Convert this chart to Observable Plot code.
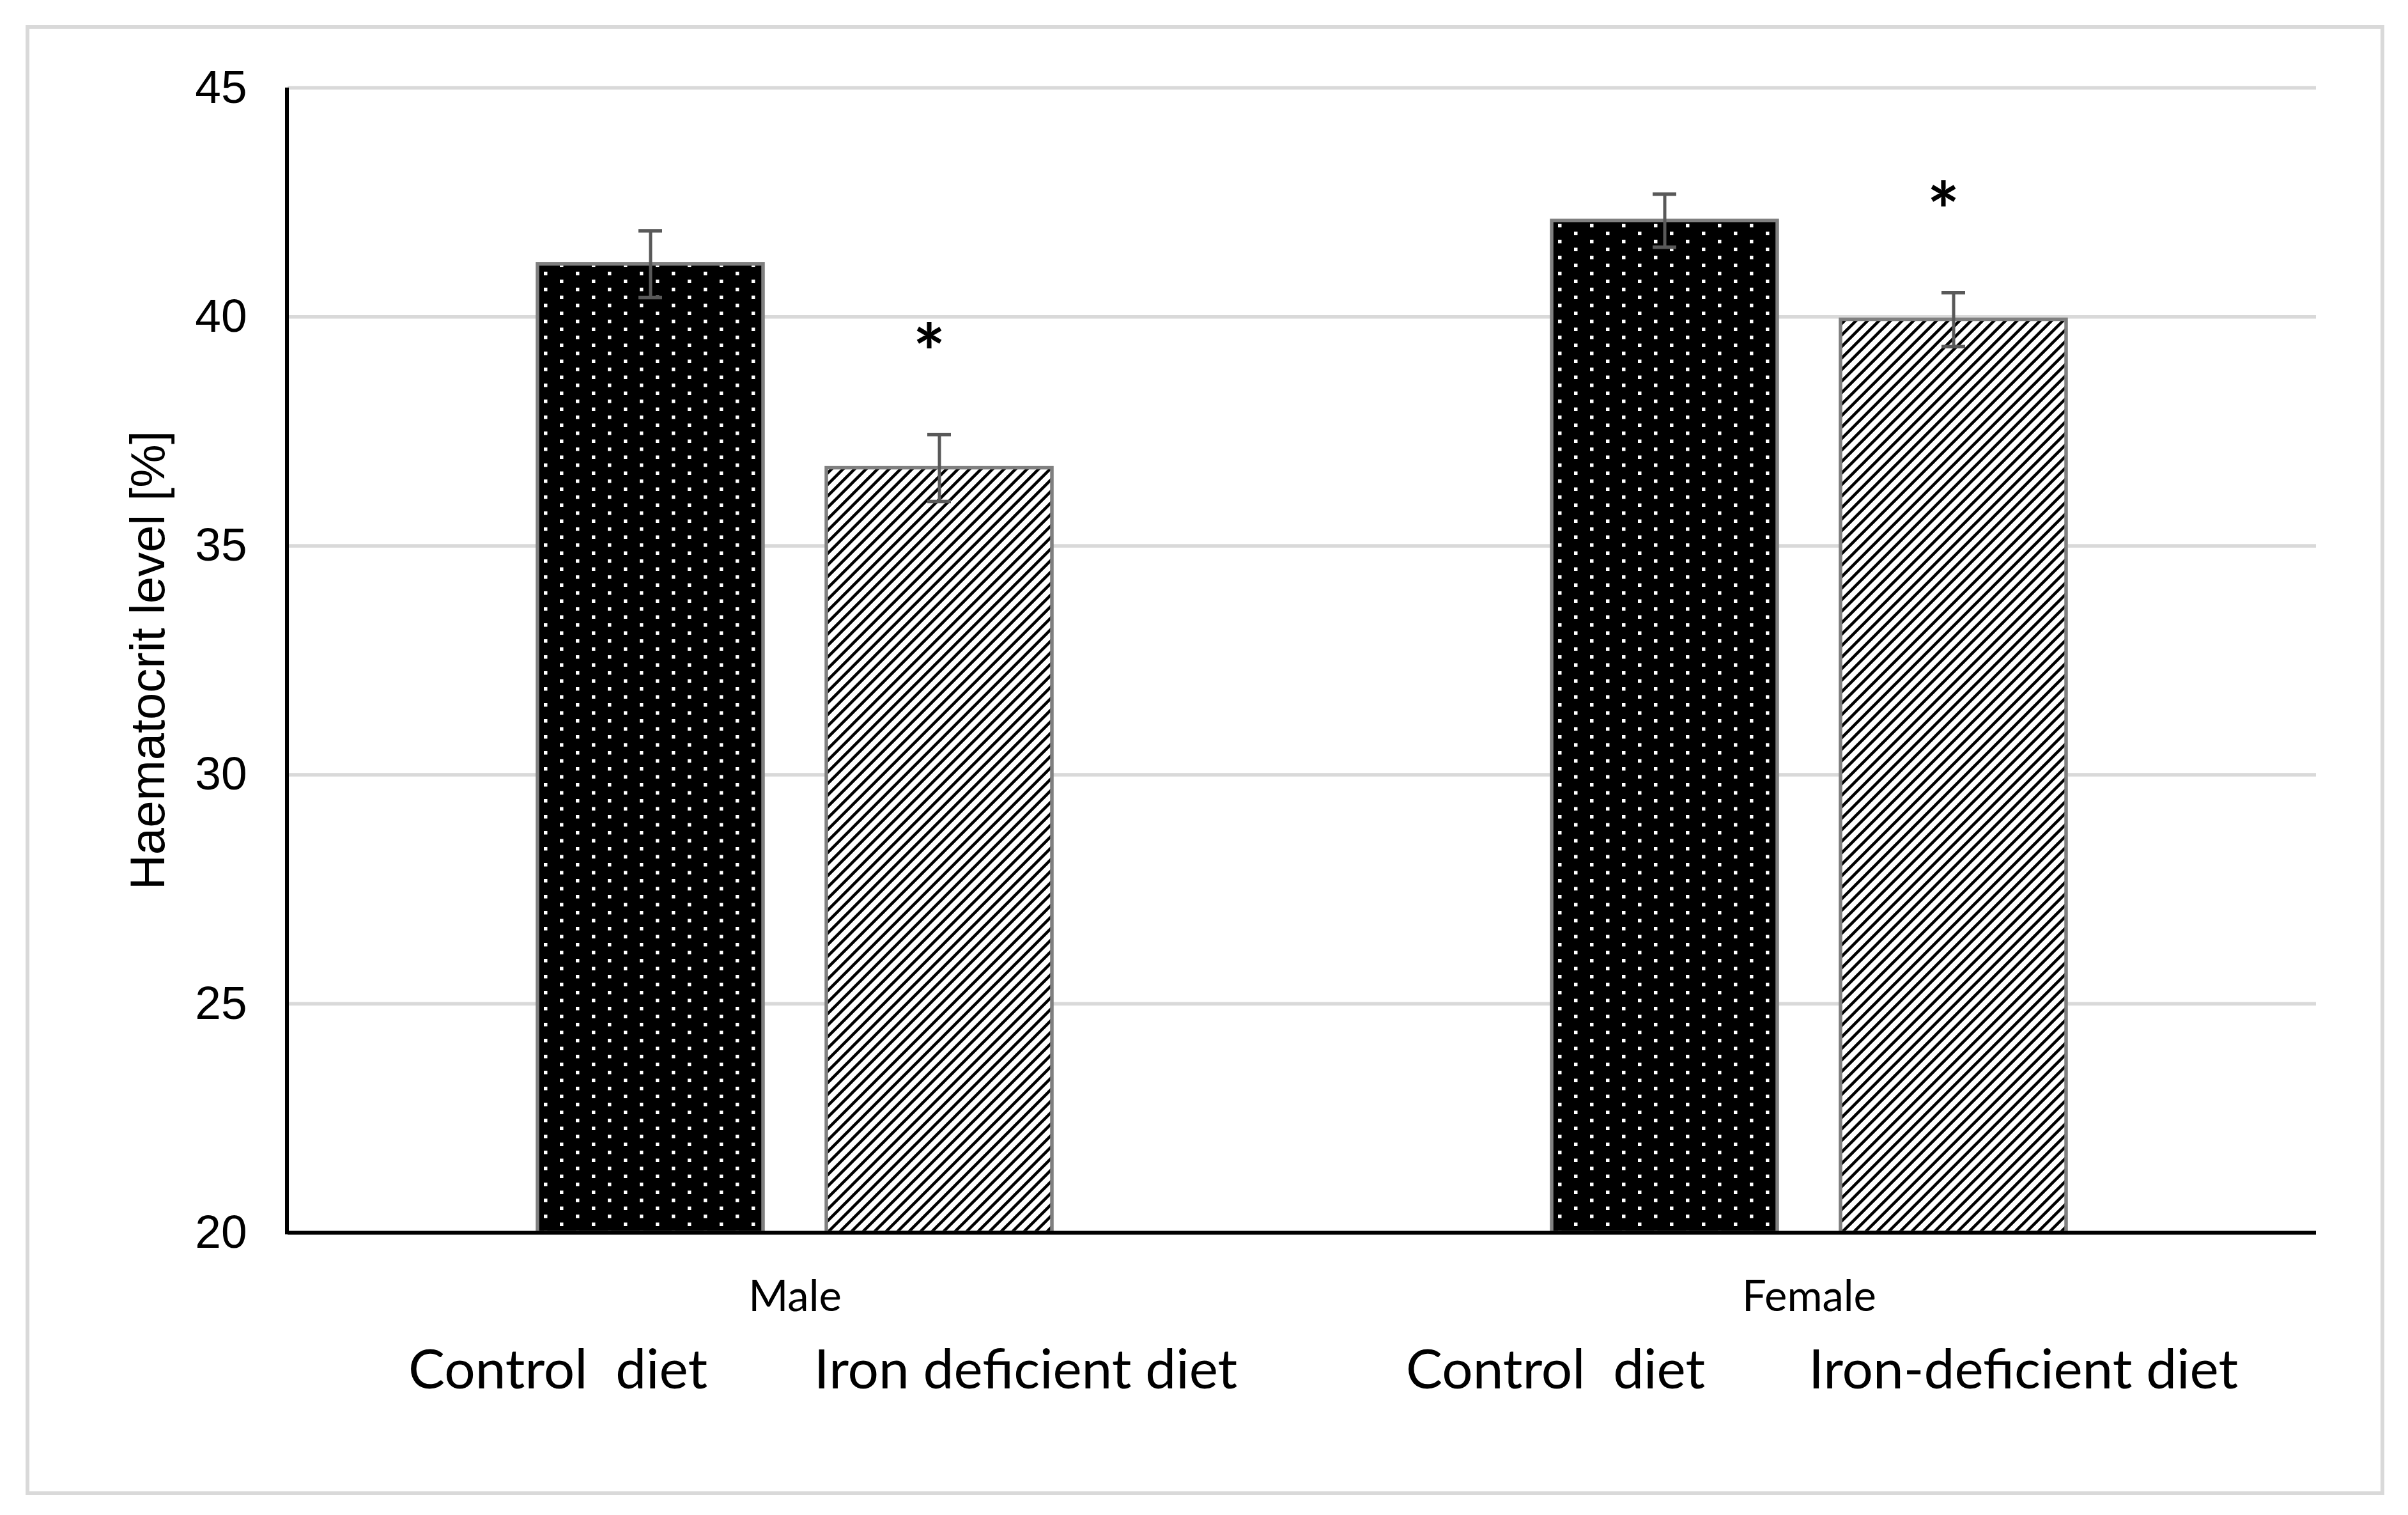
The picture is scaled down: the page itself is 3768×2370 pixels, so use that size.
<!DOCTYPE html>
<html>
<head>
<meta charset="utf-8">
<script src="https://cdn.jsdelivr.net/npm/d3@7"></script>
<script src="https://cdn.jsdelivr.net/npm/@observablehq/plot@0.6"></script>
<style>
  html, body { margin: 0; padding: 0; background: #ffffff; overflow: hidden; }
  #wrap { position: relative; width: 3768px; height: 2370px; }
  #frame { position: absolute; left: 40px; top: 39px; width: 3691px; height: 2300px;
           box-sizing: border-box; border: 6px solid #d9d9d9; pointer-events: none; }
  svg text { white-space: pre; }
</style>
</head>
<body>
<div id="wrap"><div id="frame"></div></div>
<script>
// ---- data ----
const sexes = ["Male", "Female"];
const diets = ["Control", "Iron"];
const means = [41.15, 36.70, 42.10, 39.94];      // Male control, Male iron, Female control, Female iron
const errors = [0.73, 0.73, 0.58, 0.59];
const significant = [false, true, false, true];
const dietLabels = ["Control  diet", "Iron deficient diet", "Control  diet", "Iron-deficient diet"];
const yTicks = [20, 25, 30, 35, 40, 45];
const yLabel = "Haematocrit level [%]";

const data = [];
sexes.forEach((s, i) => diets.forEach((d, j) => {
  const k = i * 2 + j;
  data.push({sex: s, diet: d, mean: means[k], err: errors[k], sig: significant[k], label: dietLabels[k]});
}));
const yMin = yTicks[0];
const yMax = yTicks[yTicks.length - 1];

// label text-box offsets (style only)
const labelDx = {Control: -159, Iron: 121};
const labelShift = {Male: 14, Female: -12};
const labelMarks = [];
sexes.forEach(s => diets.forEach(d => {
  labelMarks.push(Plot.text(data.filter(r => r.sex === s && r.diet === d), {fx: "sex", x: "diet", text: "label",
    frameAnchor: "bottom", dy: 216, dx: labelDx[d] + labelShift[s], fontSize: 85.5, fontFamily: "Lato",
    lineAnchor: "middle", fill: "black"}));
}));

const chart = Plot.plot({
  width: 3768,
  height: 2370,
  marginLeft: 449,
  marginRight: 144,
  marginTop: 137,
  marginBottom: 442,
  style: {background: "transparent", fontFamily: "Liberation Sans, Arial, sans-serif", color: "black"},
  fx: {domain: sexes, padding: 0},
  x: {domain: diets, paddingInner: 0.2185, paddingOuter: 0.861, axis: null},
  y: {domain: [yMin, yMax]},
  marks: [
    Plot.gridY(yTicks, {stroke: "#d9d9d9", strokeOpacity: 1, strokeWidth: 5.5}),
    Plot.barY(data.filter(d => d.diet === "Control"), {fx: "sex", x: "diet", y1: yMin, y2: "mean",
      fill: "url(#dots)", stroke: "#808080", strokeWidth: 5.5}),
    Plot.barY(data.filter(d => d.diet === "Iron"), {fx: "sex", x: "diet", y1: yMin, y2: "mean",
      fill: "url(#hatch)", stroke: "#808080", strokeWidth: 5.5}),
    Plot.ruleY([yMin], {stroke: "black", strokeWidth: 6}),
    Plot.ruleX(data, {fx: "sex", x: "diet", y1: d => d.mean - d.err, y2: d => d.mean + d.err,
      stroke: "#595959", strokeWidth: 5}),
    Plot.tickY(data, {fx: "sex", x: "diet", y: d => d.mean + d.err, insetLeft: 158, insetRight: 158,
      stroke: "#595959", strokeWidth: 5.5}),
    Plot.tickY(data, {fx: "sex", x: "diet", y: d => d.mean - d.err, insetLeft: 158, insetRight: 158,
      stroke: "#595959", strokeWidth: 5.5}),
    Plot.text(data.filter(d => d.sig), {fx: "sex", x: "diet", y: d => d.mean + d.err, text: () => "*",
      fontFamily: "Lato", fontWeight: "bold", fontSize: 120, lineAnchor: "bottom", dy: -84, dx: -16, fill: "black"}),
    Plot.axisY({ticks: yTicks, tickSize: 0, tickPadding: 64, fontSize: 73,
      fontFamily: "Liberation Sans", label: null}),
    Plot.axisFx({anchor: "bottom", tickSize: 0, tickPadding: 75, fontSize: 67,
      fontFamily: "Lato", label: null}),
    ...labelMarks,
    Plot.text([{sex: "Male", t: yLabel}], {fx: "sex", text: "t", frameAnchor: "left", textAnchor: "middle",
      rotate: -90, dx: -218, fontSize: 76, fontFamily: "Liberation Sans", lineAnchor: "middle", fill: "black"})
  ]
});

// pattern fills used by the bars
d3.select(chart).insert("defs", ":first-child").html(`
  <pattern id="dots" patternUnits="userSpaceOnUse" width="50" height="25">
    <rect width="50" height="25" fill="#000"/>
    <rect x="0" y="0" width="5.5" height="5.5" fill="#fff"/>
    <rect x="25" y="12.5" width="5.5" height="5.5" fill="#fff"/>
  </pattern>
  <pattern id="hatch" patternUnits="userSpaceOnUse" width="18" height="18">
    <rect width="18" height="18" fill="#fff"/>
    <path d="M-4,4 L4,-4 M0,18 L18,0 M14,22 L22,14" stroke="#000" stroke-width="4.5"/>
  </pattern>`);

// y axis line along the y scale range at the left edge of the facet band
const fxS = chart.scale("fx"), yS = chart.scale("y");
d3.select(chart).append("line")
  .attr("x1", fxS.range[0]).attr("x2", fxS.range[0])
  .attr("y1", yS.range[0] + 3).attr("y2", yS.range[1])
  .attr("stroke", "black").attr("stroke-width", 6);

document.getElementById("wrap").prepend(chart);
</script>
</body>
</html>
